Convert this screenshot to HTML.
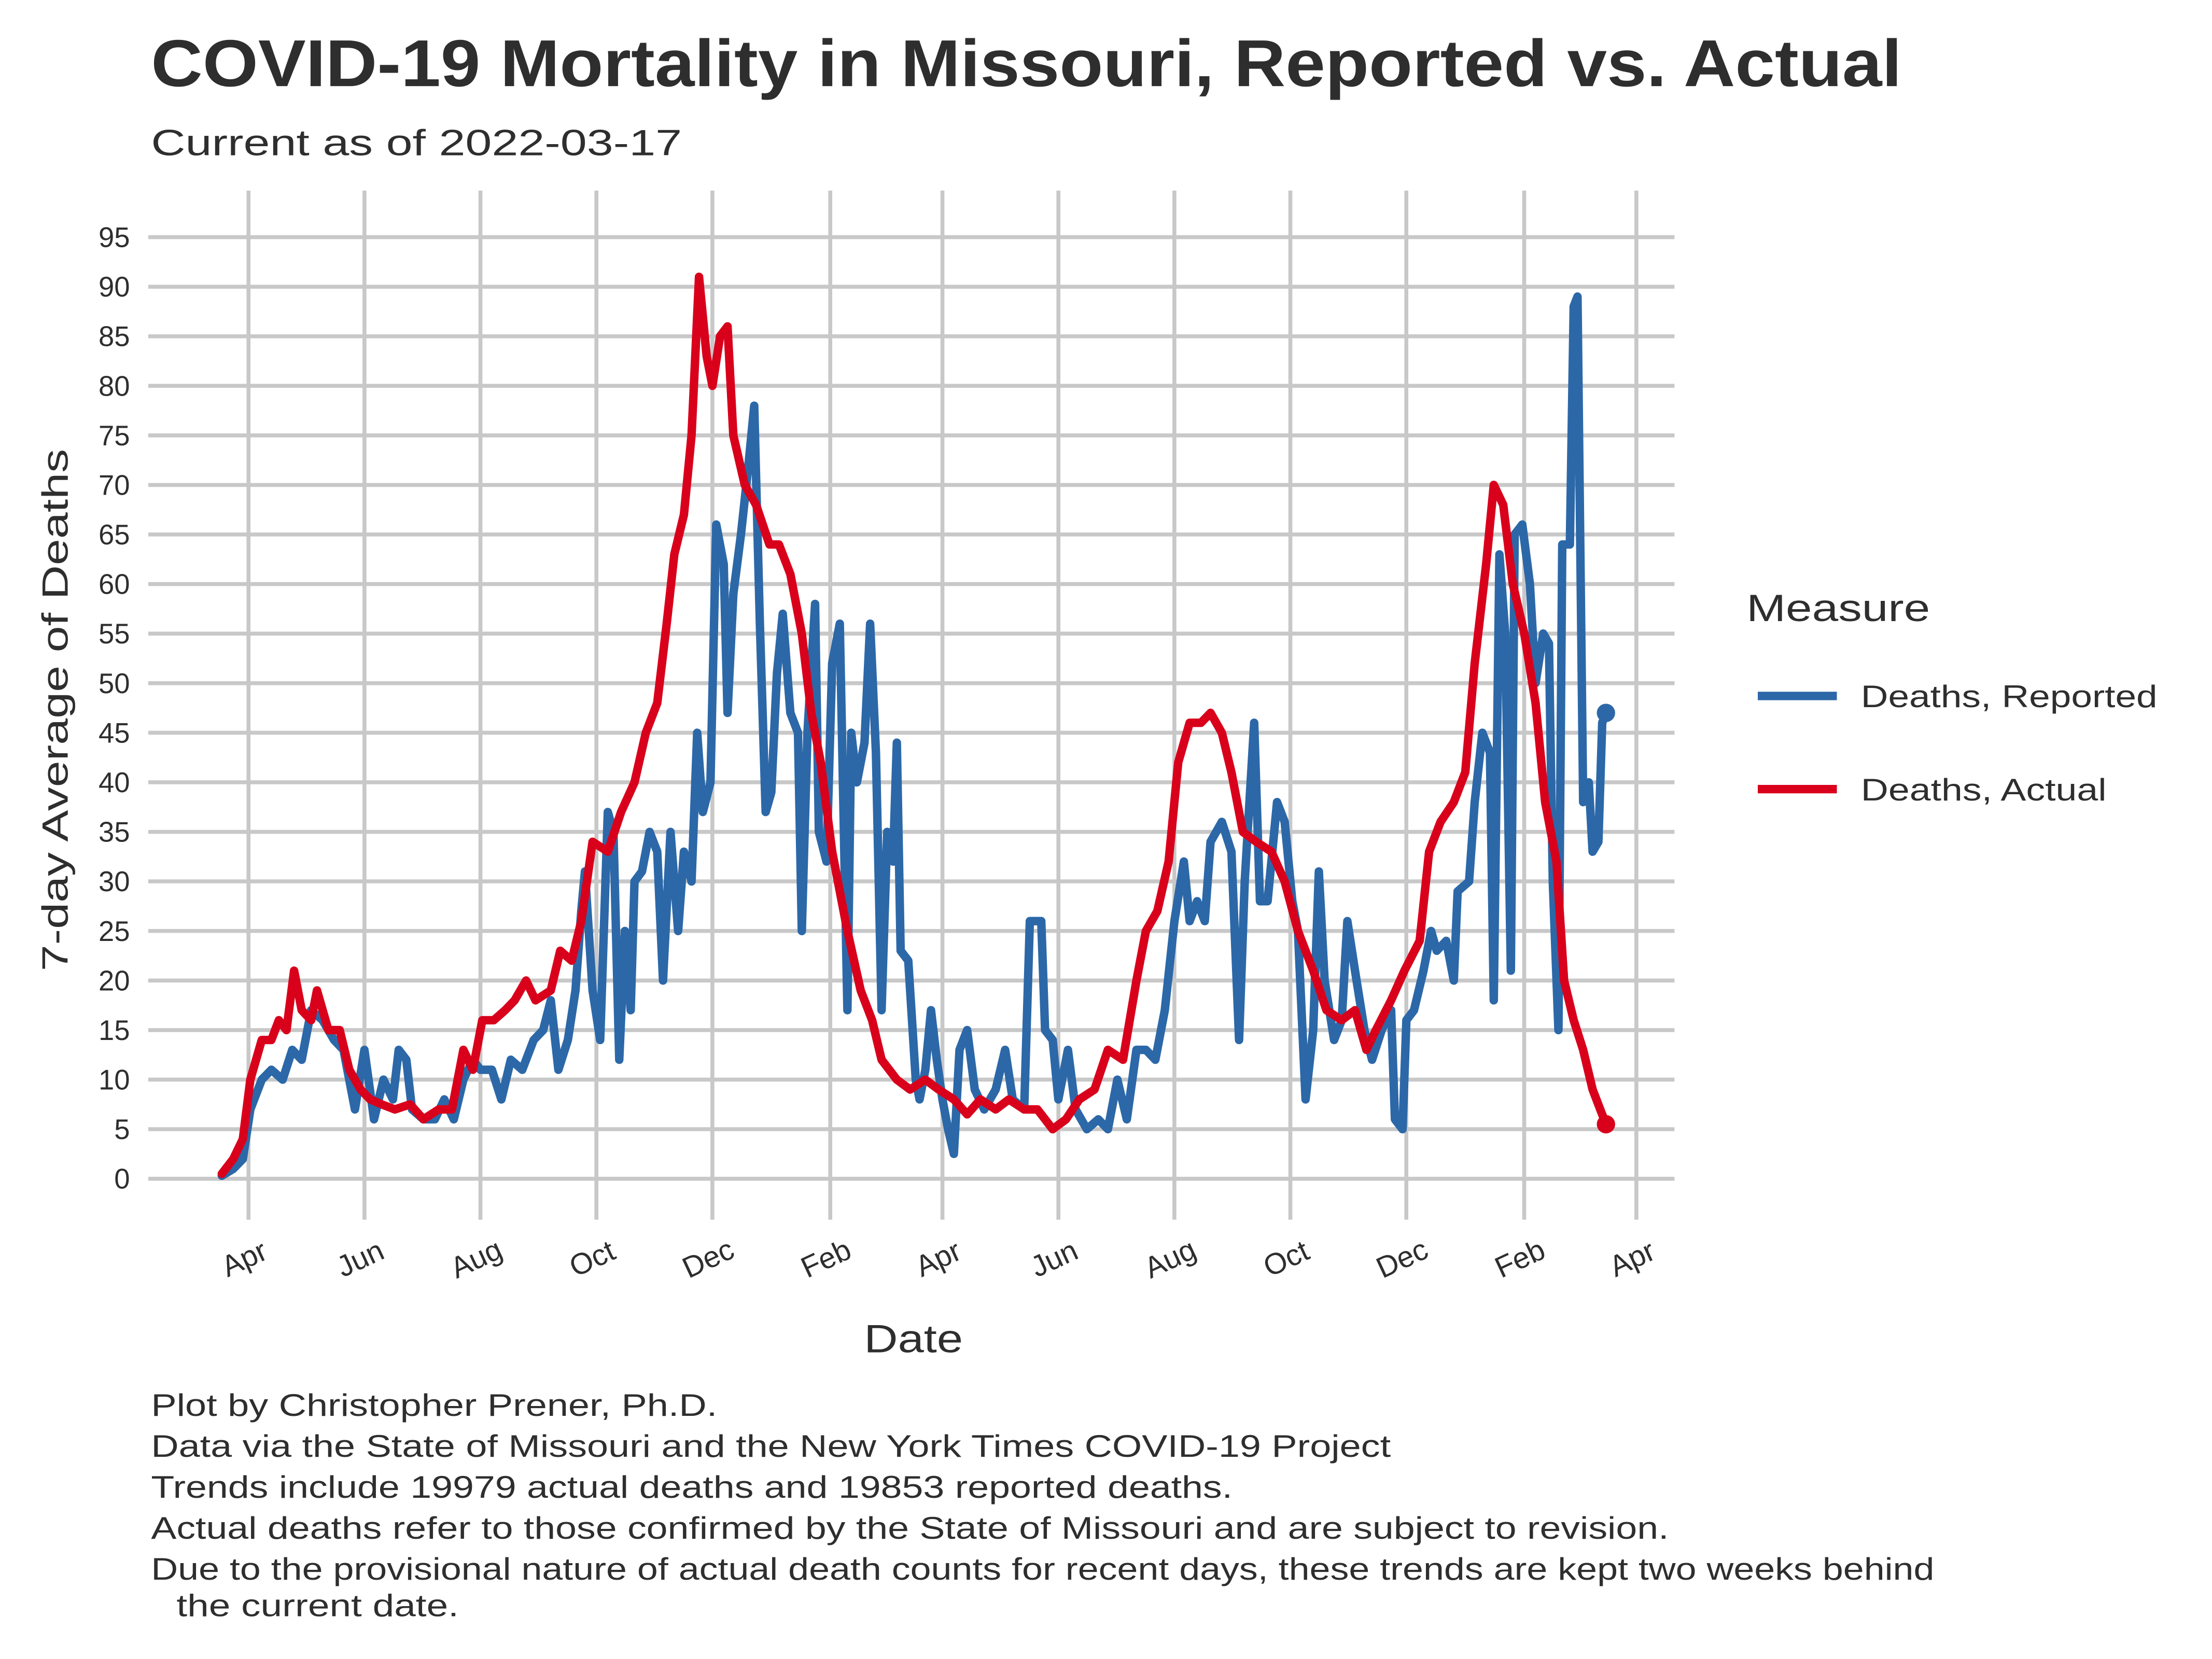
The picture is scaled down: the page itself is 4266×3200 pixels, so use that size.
<!DOCTYPE html>
<html><head><meta charset="utf-8"><style>
html,body{margin:0;padding:0;background:#fff;}
svg{display:block;}
text{font-family:"Liberation Sans",sans-serif;fill:#2e2e2e;}
</style></head><body>
<svg id="chart" width="4266" height="3200" viewBox="0 0 1566.7 1175.2" xmlns="http://www.w3.org/2000/svg">
<rect width="1600" height="1200" fill="#fff"/>
<text x="107" y="61" font-size="47" font-weight="bold" textLength="1240" lengthAdjust="spacingAndGlyphs">COVID-19 Mortality in Missouri, Reported vs. Actual</text>
<text x="107" y="110" font-size="26" textLength="376" lengthAdjust="spacingAndGlyphs">Current as of 2022-03-17</text>
<g id="grid"></g>
<g id="yticks"></g>
<g id="xticks"></g>
<g id="series"></g>
<text x="612" y="958" font-size="28" textLength="70" lengthAdjust="spacingAndGlyphs">Date</text>
<text transform="translate(48,688) rotate(-90)" font-size="26" textLength="370" lengthAdjust="spacingAndGlyphs">7-day Average of Deaths</text>
<g>
<text x="1237" y="440" font-size="27" textLength="130" lengthAdjust="spacingAndGlyphs">Measure</text>
<g>
<line x1="1245" y1="493" x2="1301" y2="493" stroke="#2c68a8" stroke-width="6"/>
<text x="1318" y="501" font-size="22" textLength="210" lengthAdjust="spacingAndGlyphs">Deaths, Reported</text></g>
<g>
<line x1="1245" y1="559" x2="1301" y2="559" stroke="#d9001b" stroke-width="6"/>
<text x="1318" y="567" font-size="22" textLength="174" lengthAdjust="spacingAndGlyphs">Deaths, Actual</text></g>
</g>
<g font-size="22">
<text x="107" y="1003" textLength="401" lengthAdjust="spacingAndGlyphs">Plot by Christopher Prener, Ph.D.</text>
<text x="107" y="1032" textLength="878" lengthAdjust="spacingAndGlyphs">Data via the State of Missouri and the New York Times COVID-19 Project</text>
<text x="107" y="1061" textLength="766" lengthAdjust="spacingAndGlyphs">Trends include 19979 actual deaths and 19853 reported deaths.</text>
<text x="107" y="1090" textLength="1075" lengthAdjust="spacingAndGlyphs">Actual deaths refer to those confirmed by the State of Missouri and are subject to revision.</text>
<text x="107" y="1119" textLength="1263" lengthAdjust="spacingAndGlyphs">Due to the provisional nature of actual death counts for recent days, these trends are kept two weeks behind</text>
<text x="125" y="1145" textLength="200" lengthAdjust="spacingAndGlyphs">the current date.</text>
</g>
</svg>
<script>
// days since 2020-04-01
const xTickDays = [0,61,122,183,244,306,365,426,487,548,609,671,730];
const xTickLabels = ["Apr","Jun","Aug","Oct","Dec","Feb","Apr","Jun","Aug","Oct","Dec","Feb","Apr"];
const yTicks = [0,5,10,15,20,25,30,35,40,45,50,55,60,65,70,75,80,85,90,95];
const actualDays = [-14,-8,-3,1,7,12,16,20,24,28,33,36,42,48,53,59,64,70,77,85,92,100,107,113,118,123,129,135,140,146,151,159,164,170,175,181,189,196,203,209,215,220,224,229,233,237,241,244,248,252,255,261,267,274,279,285,291,296,301,307,315,322,328,333,341,348,356,363,371,378,385,393,400,408,415,423,430,437,445,452,460,467,472,478,484,489,495,501,506,512,517,523,530,538,545,552,560,567,575,582,588,593,601,608,616,621,627,634,640,645,651,655,660,665,671,677,682,688,692,697,702,707,711,714];
const actualVals = [0.5,2,4,10,14,14,16,15,21,17,16,19,15,15,11,9,8,7.5,7,7.5,6,7,7,13,11,16,16,17,18,20,18,19,23,22,26,34,33,37,40,45,48,56,63,67,75,91,83,80,85,86,75,70,68,64,64,61,55,47,42,33,25,19,16,12,10,9,10,9,8,6.5,8,7,8,7,7,5,6,8,9,13,12,20,25,27,32,42,46,46,47,45,41,35,34,33,30,25,21,17,16,17,13,15,18,21,24,33,36,38,41,52,62,70,68,60,55,48,38,32,20,16,13,9,7,5.5];
const reportedDays = [-14,-8,-3,1,7,12,18,23,28,33,39,45,50,56,61,66,71,76,79,83,86,92,98,103,108,113,118,122,128,133,138,144,150,155,159,163,168,172,175,177,181,185,189,192,195,198,201,203,207,211,215,218,222,226,229,233,236,239,243,246,250,252,255,259,263,266,269,272,275,278,281,285,289,291,294,298,300,304,307,311,315,317,320,324,327,330,333,336,339,341,343,347,351,353,356,359,362,365,368,371,374,378,382,387,393,398,402,408,411,417,419,423,426,431,435,441,447,452,457,462,467,472,477,482,487,492,495,499,503,506,512,517,521,524,529,532,536,541,545,549,552,556,560,563,566,571,575,578,582,587,591,596,601,603,607,609,613,618,622,625,630,634,636,642,645,649,653,655,658,661,664,666,670,674,677,681,684,686,689,691,695,697,699,702,705,707,710,712,714];
const reportedVals = [0.3,1,2,7,10,11,10,13,12,17,16,14,13,7,13,6,10,8,13,12,7,6,6,8,6,10,12,11,11,8,12,11,14,15,18,11,14,19,27,31,19,14,37,35,12,25,17,30,31,35,33,20,35,25,33,30,45,37,40,66,62,47,59,65,72,78,56,37,39,51,57,47,45,25,45,58,35,32,52,56,17,45,40,44,56,43,17,35,32,44,23,22,10,8,11,17,12,8,5,2.5,13,15,9,7,9,13,8,7,26,26,15,14,8,13,7,5,6,5,10,6,13,13,12,17,26,32,26,28,26,34,36,33,14,30,46,28,28,38,36,28,25,8,15,31,20,14,16,26,21,15,12,15,17,6,5,16,17,21,25,23,24,20,29,30,38,45,43,18,63,55,21,65,66,60,50,55,54,30,15,64,64,88,89,38,40,33,34,46,47];

const NS="http://www.w3.org/2000/svg";
const X0=176, PXD=(1159-176)/730, Y0=835, PXV=(835-168)/95;
const xs=d=>X0+d*PXD, ys=v=>Y0-v*PXV;
function mk(tag,attrs,parent){const e=document.createElementNS(NS,tag);for(const k in attrs)e.setAttribute(k,attrs[k]);parent.appendChild(e);return e;}
const grid=document.getElementById('grid'), yt=document.getElementById('yticks'), xt=document.getElementById('xticks'), ser=document.getElementById('series');
yTicks.forEach(v=>{
  const l=mk('line',{x1:105,x2:1186,y1:ys(v),y2:ys(v),stroke:'#c8c8c8','stroke-width':2.8},grid);
  
  
  const t=mk('text',{x:92,y:ys(v)+7,'font-size':20,'text-anchor':'end'},yt);
  t.textContent=v;
  
  
});
xTickDays.forEach((d,i)=>{
  const l=mk('line',{x1:xs(d),x2:xs(d),y1:135,y2:864,stroke:'#c8c8c8','stroke-width':2.8},grid);
  
  
  const t=mk('text',{transform:`translate(${xs(d)},${898}) rotate(-25)`,'font-size':21,'text-anchor':'middle'},xt);
  t.textContent=xTickLabels[i];
  
  
});
function drawLine(days,vals,color,name){
  const p=days.map((d,i)=>(i?'L':'M')+xs(d).toFixed(1)+' '+ys(vals[i]).toFixed(1)).join(' ');
  const path=mk('path',{d:p,fill:'none',stroke:color,'stroke-width':6,'stroke-linejoin':'round','stroke-linecap':'round'},ser);
  
  
  const n=days.length-1;
  const c=mk('circle',{cx:xs(days[n]),cy:ys(vals[n]),r:6.5,fill:color},ser);
  
  
}
drawLine(reportedDays,reportedVals,'#2c68a8','reported');
drawLine(actualDays,actualVals,'#d9001b','actual');
</script>
</body></html>
